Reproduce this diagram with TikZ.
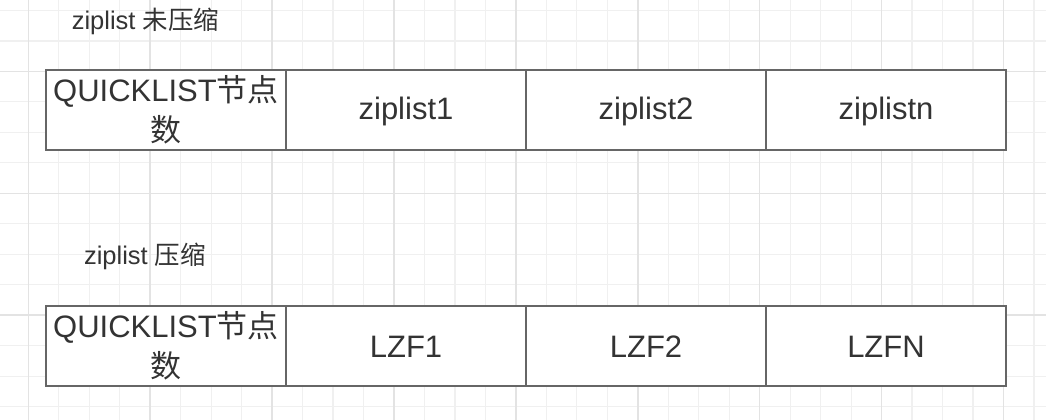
\documentclass[tikz,border=0pt]{standalone}
\usepackage{fontspec}
\setmainfont{Liberation Sans}
\newfontfamily\cjk{Noto Sans CJK SC}
\definecolor{gridminor}{HTML}{F0F0F0}
\definecolor{gridmajor}{HTML}{E3E3E3}
\definecolor{boxline}{HTML}{666666}
\definecolor{textc}{HTML}{333333}
\begin{document}
\begin{tikzpicture}[x=1pt,y=-1pt,
  minorgrid/.style={draw=gridminor,line width=1.2pt},
  majorgrid/.style={draw=gridmajor,line width=1.5pt},
  cell/.style={draw=boxline,fill=white,line width=1.5pt,minimum width=240pt,
    minimum height=80pt,inner sep=0pt,text=textc,
    font=\fontsize{31}{40}\selectfont,align=center},
  toprow/.style={cell,text height=24.2pt,text depth=5.8pt},
  botrow/.style={cell,text height=22.2pt,text depth=0pt},
  caption/.style={text=textc,font=\fontsize{25.5}{30}\selectfont,
    anchor=base,inner sep=0pt}]
\useasboundingbox (0,0) rectangle (1046,420);
\fill[white] (0,0) rectangle (1046,420);

% background grid: thin lines every 30.475px, stronger ones every fourth line
\foreach \i in {0,...,33} {
  \draw[minorgrid] ({28.3+30.475*\i},0) -- ({28.3+30.475*\i},420);
}
\foreach \j in {0,...,13} {
  \draw[minorgrid] (0,{10.45+30.475*\j}) -- (1046,{10.45+30.475*\j});
}
\foreach \i in {0,4,...,32} {
  \draw[majorgrid] ({28.3+30.475*\i},0) -- ({28.3+30.475*\i},420);
}
\foreach \j in {2,6,10} {
  \draw[majorgrid] (0,{10.45+30.475*\j}) -- (1046,{10.45+30.475*\j});
}

% uncompressed quicklist layout
\node[caption] (cap1) at (145.5,29.5) {ziplist {\cjk 未压缩}};
\node[cell]   (u0) at (166,110) {QUICKLIST{\cjk 节点}\\{\cjk 数}};
\node[toprow] (u1) at (406,110) {ziplist1};
\node[toprow] (u2) at (646,110) {ziplist2};
\node[toprow] (u3) at (886,110) {ziplistn};

% compressed quicklist layout
\node[caption] (cap2) at (145,264.5) {ziplist {\cjk 压缩}};
\node[cell]   (c0) at (166,346) {QUICKLIST{\cjk 节点}\\{\cjk 数}};
\node[botrow] (c1) at (406,346) {LZF1};
\node[botrow] (c2) at (646,346) {LZF2};
\node[botrow] (c3) at (886,346) {LZFN};
\end{tikzpicture}
\end{document}
